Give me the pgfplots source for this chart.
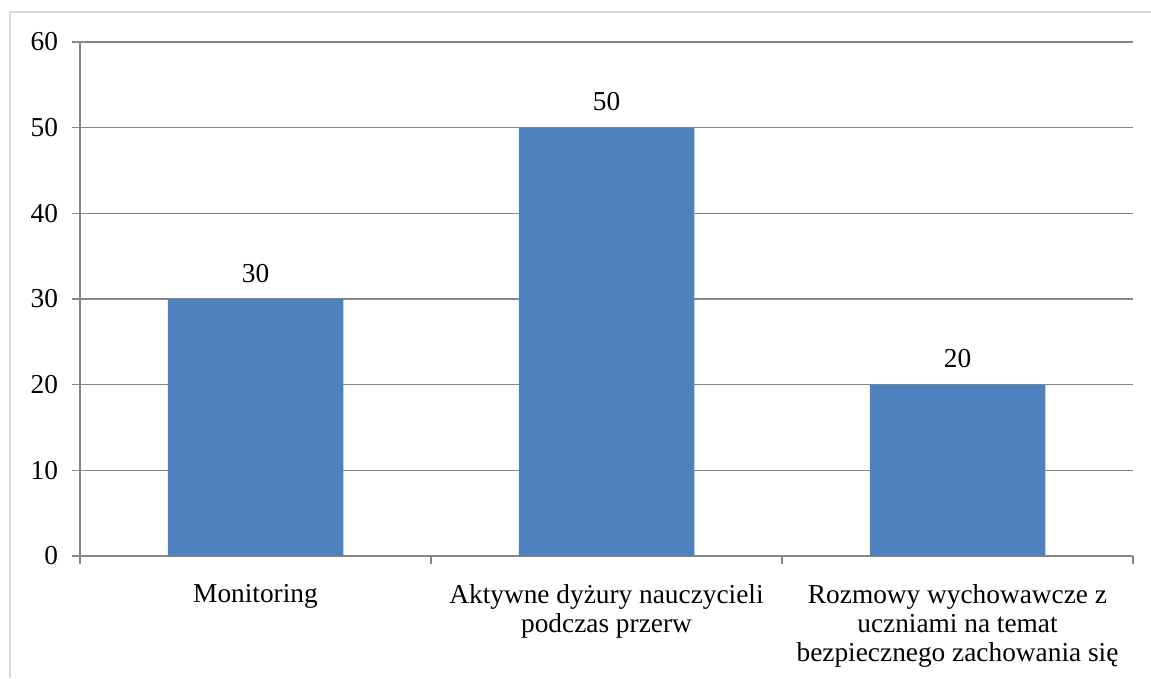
\documentclass[border=0pt]{standalone}
\usepackage{fontspec}
\setmainfont{Liberation Serif}
\usepackage{pgfplots}
\pgfplotsset{compat=1.18}
\definecolor{barblue}{HTML}{4F81BD}
\definecolor{gridgray}{HTML}{868686}
\definecolor{framegray}{HTML}{D9D9D9}
\newcommand{\lblfont}{\fontsize{20.5pt}{21.5pt}\selectfont}
\begin{document}
\begin{tikzpicture}
\path[use as bounding box] (0,0) rectangle (863.25pt,508.5pt);
\draw[color=framegray, line width=0.9pt] (7.5pt,0) -- (7.5pt,499.5pt) -- (863.25pt,499.5pt);
\begin{axis}[
  at={(60pt,91.5pt)}, anchor=south west,
  scale only axis,
  width=789.75pt, height=385.5pt,
  xmin=0, xmax=3, ymin=0, ymax=60,
  axis x line=bottom, axis y line=left,
  axis line style={gridgray, line width=0.9pt, -},
  /pgf/number format/assume math mode=true,
  ytick={0,10,...,60},
  ymajorgrids,
  major grid style={gridgray, line width=0.9pt},
  tick style={gridgray, line width=0.9pt},
  tick align=outside,
  major tick length=6pt,
  xtick={0,1,2,3},
  xticklabels={},
  extra x ticks={0.5,1.5,2.5},
  extra x tick labels={Monitoring,{Aktywne dyżury nauczycieli\\podczas przerw},{Rozmowy wychowawcze z\\uczniami na temat\\bezpiecznego zachowania się}},
  extra x tick style={grid=none, major tick length=0pt, tick style={draw=none},
    xticklabel style={font=\lblfont, align=center, yshift=-18pt}},
  yticklabel style={font=\lblfont, xshift=-7pt},
  ybar, bar width=0.5,
  nodes near coords,
  every node near coord/.append style={font=\lblfont, text=black, yshift=9pt},
]
\addplot[fill=barblue, draw=none] coordinates {(0.5,30) (1.5,50) (2.5,20)};
\end{axis}
\end{tikzpicture}
\end{document}
